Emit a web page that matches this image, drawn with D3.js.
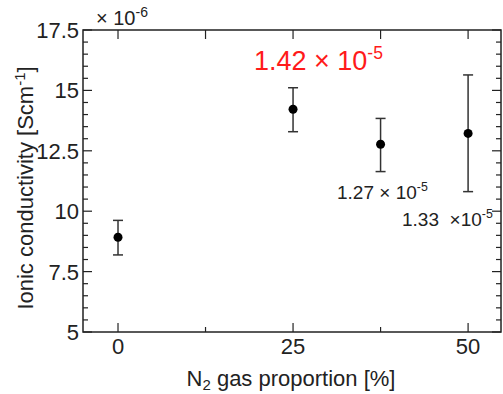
<!DOCTYPE html>
<html>
<head>
    <script type="text/javascript" src="https://cdn.jsdelivr.net/npm/d3@7"></script>
    <style>
        body { margin: 0; background: #fff; }
        text { font-family: "Liberation Sans", Arial, sans-serif; white-space: pre; }
    </style>
</head>
<body>
    <div id="viz"></div>
    <script type="text/javascript">

    // N2 proportion [%] and conductivity (x 1e-6 S/cm)
    var n2 = [0, 25, 37.5, 50],
        sigma = [8.92, 14.22, 12.77, 13.22],
        errHi = [9.62, 15.11, 13.84, 15.64],
        errLo = [8.19, 13.29, 11.64, 10.81];

    var xTicks = [0, 25, 50],
        yTicks = [5, 7.5, 10, 12.5, 15, 17.5],
        yTickLabels = ["5", "7.5", "10", "12.5", "15", "17.5"];

    var W = 503, H = 394,
        mLeft = 83, mRight = 501, mTop = 30, mBottom = 332;

    var x = d3.scaleLinear().domain([-5, 54.7]).range([mLeft, mRight]);
    var y = d3.scaleLinear().domain([5, 17.5]).range([mBottom, mTop]);

    var svg = d3.select("#viz").append("svg")
        .attr("width", W)
        .attr("height", H);

    var axisColor = "#222";

    // frame
    svg.append("rect")
        .attr("x", mLeft).attr("y", mTop)
        .attr("width", mRight - mLeft).attr("height", mBottom - mTop)
        .attr("fill", "none").attr("stroke", axisColor).attr("stroke-width", 1.5);

    // y ticks (major 2.5, minor 0.5) on both sides
    var yMinor = d3.range(5, 17.51, 0.5);
    yMinor.forEach(function(v) {
        var major = Math.abs(v / 2.5 - Math.round(v / 2.5)) < 1e-6;
        var len = major ? 9 : 5;
        svg.append("line").attr("x1", mLeft).attr("x2", mLeft + len)
            .attr("y1", y(v)).attr("y2", y(v))
            .attr("stroke", axisColor).attr("stroke-width", 1.2);
        svg.append("line").attr("x1", mRight).attr("x2", mRight - len)
            .attr("y1", y(v)).attr("y2", y(v))
            .attr("stroke", axisColor).attr("stroke-width", 1.2);
    });

    // x ticks
    [0, 12.5, 25, 37.5, 50].forEach(function(v) {
        var major = xTicks.indexOf(v) >= 0;
        var len = major ? 9 : 5;
        svg.append("line").attr("x1", x(v)).attr("x2", x(v))
            .attr("y1", mBottom).attr("y2", mBottom - len)
            .attr("stroke", axisColor).attr("stroke-width", 1.2);
        svg.append("line").attr("x1", x(v)).attr("x2", x(v))
            .attr("y1", mTop).attr("y2", mTop + 9)
            .attr("stroke", axisColor).attr("stroke-width", 1.2);
    });

    // tick labels
    svg.selectAll(".ylab").data(yTicks).enter().append("text")
        .attr("x", mLeft - 4)
        .attr("y", function(d) { return y(d) + 8; })
        .attr("text-anchor", "end")
        .attr("font-size", 22)
        .attr("fill", "#222")
        .text(function(d, i) { return yTickLabels[i]; });

    svg.selectAll(".xlab").data(xTicks).enter().append("text")
        .attr("x", function(d) { return x(d); })
        .attr("y", 354)
        .attr("text-anchor", "middle")
        .attr("font-size", 22)
        .attr("fill", "#222")
        .text(function(d) { return d; });

    // multiplier
    var mult = svg.append("text").attr("x", 96).attr("y", 25)
        .attr("font-size", 20).attr("fill", "#222");
    mult.append("tspan").text("\u00d7 10");
    mult.append("tspan").attr("dy", -8).attr("font-size", 14).text("-6");

    // axis titles
    var xt = svg.append("text").attr("x", 291).attr("y", 386)
        .attr("text-anchor", "middle").attr("font-size", 22).attr("fill", "#222");
    xt.append("tspan").text("N");
    xt.append("tspan").attr("dy", 4).attr("font-size", 15).text("2");
    xt.append("tspan").attr("dy", -4).text(" gas proportion [%]");

    var yt = svg.append("text")
        .attr("transform", "translate(33,188) rotate(-90)")
        .attr("text-anchor", "middle").attr("font-size", 22).attr("fill", "#222");
    yt.append("tspan").text("Ionic conductivity [Scm");
    yt.append("tspan").attr("dy", -8).attr("font-size", 15).text("-1");
    yt.append("tspan").attr("dy", 8).text("]");

    // error bars
    var eb = svg.selectAll(".err").data(n2).enter().append("g");
    eb.append("line")
        .attr("x1", function(d) { return x(d); }).attr("x2", function(d) { return x(d); })
        .attr("y1", function(d, i) { return y(errHi[i]); })
        .attr("y2", function(d, i) { return y(errLo[i]); })
        .attr("stroke", "#333").attr("stroke-width", 1.5);
    eb.append("line")
        .attr("x1", function(d) { return x(d) - 5; }).attr("x2", function(d) { return x(d) + 5; })
        .attr("y1", function(d, i) { return y(errHi[i]); })
        .attr("y2", function(d, i) { return y(errHi[i]); })
        .attr("stroke", "#333").attr("stroke-width", 1.5);
    eb.append("line")
        .attr("x1", function(d) { return x(d) - 5; }).attr("x2", function(d) { return x(d) + 5; })
        .attr("y1", function(d, i) { return y(errLo[i]); })
        .attr("y2", function(d, i) { return y(errLo[i]); })
        .attr("stroke", "#333").attr("stroke-width", 1.5);

    svg.selectAll(".pt").data(n2).enter().append("circle")
        .attr("cx", function(d) { return x(d); })
        .attr("cy", function(d, i) { return y(sigma[i]); })
        .attr("r", 4.5)
        .attr("fill", "#000");

    // value annotations
    function note(px, py, label, size, color) {
        var t = svg.append("text").attr("x", px).attr("y", py)
            .attr("font-size", size).attr("fill", color);
        t.append("tspan").text(label);
        t.append("tspan").attr("dy", -size * 0.4).attr("font-size", size * 0.65).text("-5");
        return t;
    }
    note(254, 70, "1.42 \u00d7 10", 27, "#ff1a1a");
    note(337, 199, "1.27 \u00d7 10", 19, "#222");
    note(402, 226, "1.33  \u00d710", 19, "#222");

    </script>
</body>
</html>
